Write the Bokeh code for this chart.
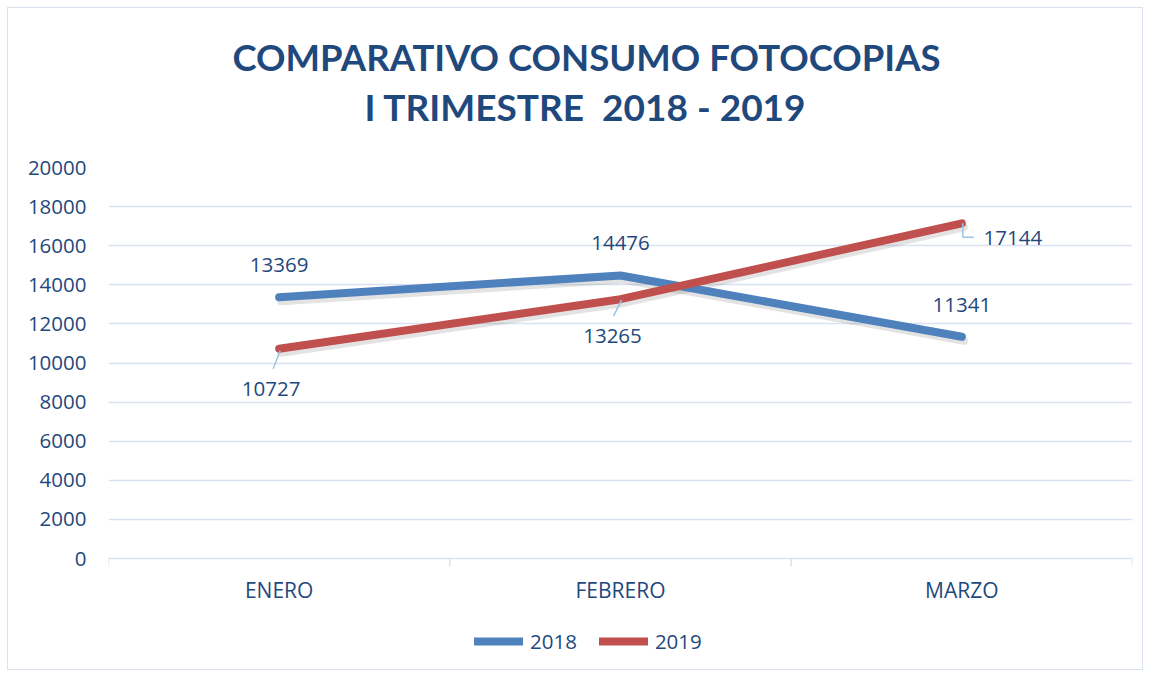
from bokeh.plotting import figure
from bokeh.models import Range1d, FixedTicker, Title, Legend, LegendItem
from bokeh.embed import file_html
from bokeh.resources import INLINE
from bokeh.core.properties import value

# ---- data ----
months = ["ENERO", "FEBRERO", "MARZO"]
series_2018 = [13369, 14476, 11341]
series_2019 = [10727, 13265, 17144]
y_ticks = [0, 2000, 4000, 6000, 8000, 10000, 12000, 14000, 16000, 18000, 20000]
title_line1 = "COMPARATIVO CONSUMO FOTOCOPIAS"
title_line2 = "I TRIMESTRE\u00a0 2018 - 2019"

TXT = "#1F497D"
GRID = "#D9E2F3"
BLUE = "#4F81BD"
RED = "#C0504D"
LEAD = "#9DC3E6"
FONT = "Open Sans"

W, H = 1134, 661
ML, MR, MT = 100, 10, 159
PLOT_H = 391          # pixel height of the 0..20000 band
BELOW = H - MT - PLOT_H  # extra frame space below zero (axis labels + legend)
FW = W - ML - MR
YMAX = 20000
px_x = len(months) / FW
px_y = YMAX / PLOT_H
YMIN = -BELOW * px_y

p = figure(width=W, height=H, output_backend="svg", toolbar_location=None,
           x_axis_location=None,
           x_range=Range1d(0, len(months)), y_range=Range1d(YMIN, YMAX),
           min_border_left=ML, min_border_right=MR, min_border_top=MT, min_border_bottom=0,
           background_fill_color="white", border_fill_color="white")
p.outline_line_color = None
p.styles = {"margin-left": "8px", "margin-top": "8px", "outline": "1px solid #D9E2F3"}

xs = [i + 0.5 for i in range(len(months))]
bounds = list(range(len(months) + 1))

# y axis
p.yaxis.ticker = FixedTicker(ticks=y_ticks)
p.yaxis.axis_line_color = None
p.yaxis.major_tick_line_color = None
p.yaxis.major_tick_out = 0
p.yaxis.major_tick_in = 0
p.yaxis.minor_tick_line_color = None
p.yaxis.major_label_standoff = 22
p.yaxis.major_label_text_font = FONT
p.yaxis.major_label_text_font_size = "20.5px"
p.yaxis.major_label_text_color = TXT
p.ygrid.ticker = FixedTicker(ticks=y_ticks)
p.ygrid.grid_line_color = GRID
p.ygrid.grid_line_width = 1.5
p.xgrid.grid_line_color = None

# category boundary tick marks under the zero line
p.segment(bounds, [0] * len(bounds), bounds, [-8 * px_y] * len(bounds),
          line_color=GRID, line_width=1.5)

# category labels
p.text(xs, [0] * len(xs), text=months, y_offset=31, text_align="center",
       text_baseline="middle", text_font=value(FONT), text_font_size="21px", text_color=TXT)

# shadows
for ser in (series_2018, series_2019):
    p.line([x + 2 * px_x for x in xs], [v - 4 * px_y for v in ser], line_width=8,
           line_color="#7F7F7F", line_alpha=0.22, line_cap="round", line_join="round")

r18 = p.line(xs, series_2018, line_width=8, line_color=BLUE, line_cap="round", line_join="round")
r19 = p.line(xs, series_2019, line_width=8, line_color=RED, line_cap="round", line_join="round")

# leader lines for 2019 labels (pixel offsets from the point)
leaders = [
    (0, [(1, 2, -6, 20)]),
    (1, [(1, 1, -7, 17)]),
    (2, [(1, 0, 1, 14), (1, 14, 12, 14)]),
]
x0s, y0s, x1s, y1s = [], [], [], []
for i, segs in leaders:
    for (a, b, c, d) in segs:
        x0s.append(xs[i] + a * px_x); y0s.append(series_2019[i] - b * px_y)
        x1s.append(xs[i] + c * px_x); y1s.append(series_2019[i] - d * px_y)
p.segment(x0s, y0s, x1s, y1s, line_color=LEAD, line_width=1.5)

# data labels
p.text(xs, series_2018, text=[str(v) for v in series_2018], x_offset=0, y_offset=-32,
       text_align="center", text_baseline="middle", text_font=value(FONT),
       text_font_size="20.5px", text_color=TXT)
p.text(xs, series_2019, text=[str(v) for v in series_2019],
       x_offset=[-8, -8, 51], y_offset=[40, 37, 15],
       text_align="center", text_baseline="middle", text_font=value(FONT),
       text_font_size="20.5px", text_color=TXT)

# legend (inside the frame's lower band)
legend = Legend(items=[LegendItem(label="2018", renderers=[r18]),
                       LegendItem(label="2019", renderers=[r19])],
                orientation="horizontal", location=(366, 14),
                glyph_width=49, glyph_height=20, label_standoff=7, spacing=22,
                label_text_font=FONT, label_text_font_size="20.5px", label_text_color=TXT,
                border_line_color=None, background_fill_alpha=0, margin=0, padding=0)
p.add_layout(legend, "center")

# titles (later added = further out); first a blank spacer next to the plot
p.add_layout(Title(text=" ", text_font_size="10px", standoff=23), "above")
p.add_layout(Title(text=title_line2, align="left", offset=256, text_font="Lato",
                   text_font_style="bold", text_font_size="37px", text_color=TXT,
                   standoff=6), "above")
p.add_layout(Title(text=title_line1, align="left", offset=124, text_font="Lato",
                   text_font_style="bold", text_font_size="36.5px", text_color=TXT,
                   standoff=0), "above")

open("out.html", "w").write(file_html(p, INLINE))
